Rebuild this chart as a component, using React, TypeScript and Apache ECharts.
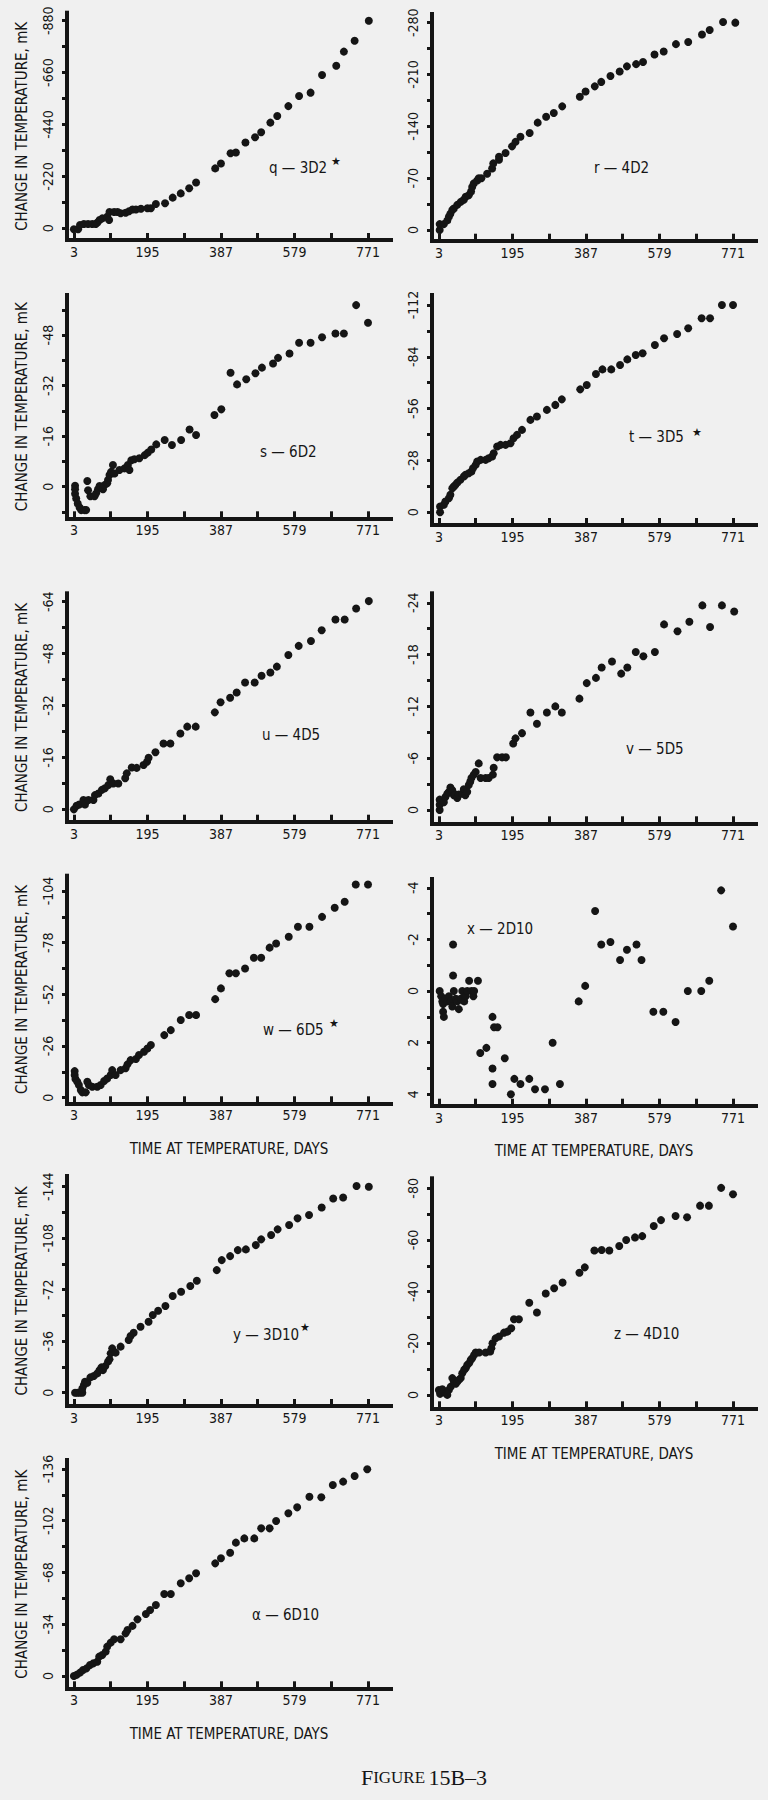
import React, { useEffect, useRef } from "react";
import * as echarts from "echarts";

// ---------- data ----------
const xLabelDays = [3, 195, 387, 579, 771];
const xTickDays = [3, 99, 195, 291, 387, 483, 579, 675, 771];

const qLabels = [0, -220, -440, -660, -880];
const qTicks = [0, -110, -220, -330, -440, -550, -660, -770, -880];
const rLabels = [0, -70, -140, -210, -280];
const rTicks = [0, -35, -70, -105, -140, -175, -210, -245, -280];
const sLabels = [0, -16, -32, -48];
const sTicks = [8, 0, -8, -16, -24, -32, -40, -48, -56];
const tLabels = [0, -28, -56, -84, -112];
const tTicks = [0, -14, -28, -42, -56, -70, -84, -98, -112];
const uLabels = [0, -16, -32, -48, -64];
const uTicks = [0, -8, -16, -24, -32, -40, -48, -56, -64];
const vLabels = [0, -6, -12, -18, -24];
const vTicks = [0, -3, -6, -9, -12, -15, -18, -21, -24];
const wLabels = [0, -26, -52, -78, -104];
const wTicks = [0, -13, -26, -39, -52, -65, -78, -91, -104];
const xLabels = [4, 2, 0, -2, -4];
const xTicks = [4, 3, 2, 1, 0, -1, -2, -3, -4];
const yLabels = [0, -36, -72, -108, -144];
const yTicks = [0, -18, -36, -54, -72, -90, -108, -126, -144];
const zLabels = [0, -20, -40, -60, -80];
const zTicks = [0, -10, -20, -30, -40, -50, -60, -70, -80];
const aLabels = [0, -34, -68, -102, -136];
const aTicks = [0, -17, -34, -51, -68, -85, -102, -119, -136];

const qData = [[3,4],[14,4],[19,-14],[29,-18],[40,-18],[51,-18],[60,-18],[64,-24],[70,-35],[77,-42],[90,-49],[95,-35],[96,-69],[108,-69],[117,-69],[125,-64],[138,-66],[147,-72],[156,-80],[165,-80],[178,-83],[195,-85],[204,-85],[217,-103],[241,-106],[261,-130],[282,-148],[304,-170],[322,-194],[372,-254],[387,-275],[412,-318],[426,-321],[451,-364],[476,-386],[492,-407],[516,-448],[534,-476],[563,-518],[591,-561],[621,-575],[651,-650],[688,-689],[708,-749],[736,-795],[773,-880]];
const rData = [[5,0],[5,-8],[16,-8],[25,-13],[29,-18],[33,-22],[38,-27],[42,-29],[51,-34],[60,-38],[68,-41],[73,-45],[81,-47],[87,-52],[90,-58],[94,-63],[103,-67],[107,-70],[114,-70],[129,-76],[142,-83],[145,-90],[160,-95],[160,-99],[177,-104],[194,-113],[203,-119],[216,-126],[240,-131],[261,-145],[283,-153],[303,-158],[325,-167],[371,-180],[386,-187],[410,-194],[427,-200],[451,-208],[475,-214],[494,-221],[518,-224],[536,-227],[566,-237],[590,-241],[622,-251],[654,-254],[690,-264],[710,-270],[745,-281],[777,-280]];
const sData = [[6,-0.3],[6,0.8],[6,2.2],[9,3.7],[13,5.3],[18,6.6],[22,7.4],[31,7.4],[35,7.4],[38,-1.8],[40,1.1],[46,3],[57,3],[61,2.1],[66,0.8],[70,-0.2],[74,0],[79,0.8],[83,-0.5],[90,-1.1],[92,-2.1],[96,-3.7],[100,-4.7],[105,-6.9],[109,-4.2],[122,-5.3],[135,-5.8],[144,-6.9],[148,-5.3],[153,-8.4],[161,-8.7],[174,-9.0],[188,-10.0],[196,-10.8],[205,-11.8],[218,-13.4],[240,-14.8],[259,-13.2],[283,-14.8],[305,-18.1],[322,-16.4],[370,-22.7],[388,-24.5],[412,-36.1],[429,-32.4],[453,-34.0],[477,-35.9],[494,-37.7],[523,-39.0],[536,-40.8],[566,-42.2],[591,-45.6],[621,-45.6],[651,-47.3],[686,-48.5],[708,-48.5],[740,-57.5],[771,-51.9]];
const tData = [[6,0],[6,-3.1],[16,-4],[20,-5.8],[29,-7.6],[33,-9.4],[38,-13],[42,-13.9],[46,-14.8],[51,-16],[59,-17.5],[68,-19.3],[72,-20.2],[81,-21.1],[88,-22],[92,-23.8],[99,-25.6],[103,-27.4],[112,-28.3],[125,-28.3],[133,-29.2],[142,-30.1],[146,-31.9],[155,-35.5],[164,-36.4],[177,-36.4],[190,-37.3],[198,-40],[207,-41.8],[220,-44.5],[242,-49.9],[259,-51.7],[285,-55.3],[307,-58],[324,-61],[372,-66.4],[389,-68.8],[413,-74.7],[430,-77.2],[453,-77.2],[476,-79.6],[495,-82.6],[517,-85],[535,-85.9],[567,-90.4],[591,-94],[625,-96.3],[654,-99.4],[689,-104.8],[711,-104.8],[742,-112],[771,-112]];
const uData = [[3,0],[10,-1.1],[17,-1.5],[28,-2.9],[32,-1.5],[41,-2.9],[54,-2.9],[58,-4.4],[67,-4.9],[76,-6],[84,-6.5],[93,-7.5],[98,-9.3],[106,-8],[119,-8],[137,-9.6],[141,-11.1],[154,-12.9],[167,-12.8],[185,-13.7],[194,-14.7],[198,-15.9],[216,-17.6],[237,-20.3],[255,-20.3],[281,-23.4],[299,-25.5],[321,-25.5],[371,-29.9],[386,-33],[411,-34.4],[428,-36],[450,-39.1],[475,-39.1],[493,-41.2],[516,-42.2],[533,-44],[563,-47.6],[590,-50.4],[622,-51.9],[650,-55.2],[686,-58.5],[710,-58.5],[740,-61.9],[773,-64.2]];
const vData = [[5,0],[5,-0.6],[5,-1.2],[16,-0.9],[20,-1.5],[25,-1.9],[29,-2.1],[33,-2.6],[38,-2.3],[42,-1.7],[46,-1.8],[51,-1.4],[55,-1.8],[64,-1.9],[68,-2.4],[72,-1.7],[77,-2.1],[81,-2.9],[85,-3.3],[88,-3.7],[94,-4.1],[99,-4.4],[107,-5.4],[112,-3.7],[125,-3.7],[133,-3.7],[144,-4.1],[146,-4.9],[155,-6.1],[168,-6.1],[178,-6.1],[197,-7.7],[203,-8.3],[220,-8.9],[242,-11.3],[259,-10],[285,-11.3],[307,-12],[324,-11.3],[370,-12.9],[389,-14.7],[413,-15.3],[428,-16.5],[455,-17.2],[479,-15.8],[495,-16.5],[517,-18.3],[537,-17.8],[567,-18.3],[591,-21.5],[626,-20.7],[657,-21.8],[691,-23.7],[711,-21.2],[742,-23.7],[774,-23]];
const wData = [[5,-13.4],[5,-11.4],[7,-9.4],[12,-8],[16,-6.4],[21,-3.9],[25,-2.7],[34,-2.7],[38,-8],[42,-6.4],[51,-5.5],[64,-5.5],[73,-6.4],[82,-8.4],[90,-9.7],[99,-11.4],[103,-13.9],[112,-11.4],[125,-13.9],[138,-14.8],[143,-16.8],[151,-18.9],[165,-19.5],[173,-21.5],[186,-23.1],[195,-24.8],[204,-26.5],[239,-31.5],[256,-34],[282,-39.1],[304,-41.6],[322,-41.6],[372,-49.6],[387,-55],[409,-62.6],[426,-62.6],[450,-65],[473,-70.4],[492,-70.4],[514,-75.5],[531,-77.6],[564,-81],[588,-86],[618,-86],[651,-91],[684,-95.6],[710,-98.6],[739,-107.3],[771,-107.3]];
const xData = [[5,0],[9,0.2],[12,0.4],[14,0.5],[14,0.8],[16,1.0],[20,0.3],[25,0.4],[29,0.2],[34,0.4],[38,0.6],[40,-1.8],[40,-0.6],[42,0],[47,0.3],[51,0.4],[55,0.7],[60,0.3],[64,0],[69,0.4],[73,0.2],[77,0],[82,-0.4],[88,0],[93,0.2],[95,0],[105,-0.4],[111,2.4],[127,2.2],[143,1.0],[143,3.0],[143,3.6],[147,1.4],[156,1.4],[175,2.6],[191,4.0],[200,3.4],[216,3.6],[239,3.4],[254,3.8],[280,3.8],[300,2.0],[319,3.6],[368,0.4],[385,-0.2],[411,-3.1],[427,-1.8],[451,-1.9],[476,-1.2],[494,-1.6],[519,-1.8],[532,-1.2],[563,0.8],[589,0.8],[621,1.2],[653,0],[688,0],[709,-0.4],[740,-3.9],[771,-2.5]];
const yData = [[6,0],[12,0],[18,0],[25,0],[25,-3],[29,-5.4],[32,-7.7],[38,-7],[46,-10.7],[55,-11.7],[64,-13.5],[70,-15.8],[75,-17.7],[79,-15.8],[85,-18.6],[92,-21.7],[96,-23.3],[99,-27.5],[103,-31],[112,-28],[125,-32.2],[146,-36.8],[151,-39.6],[159,-41.9],[177,-46.1],[198,-49.6],[209,-54.3],[223,-57.3],[242,-60.6],[261,-67.6],[283,-70.6],[307,-74.6],[324,-78.3],[376,-85.7],[389,-92.7],[411,-95.5],[431,-99.7],[452,-100.2],[478,-103.2],[492,-107.2],[518,-110.2],[535,-114.2],[565,-117.2],[587,-121.9],[617,-124.2],[650,-129.5],[680,-135.8],[706,-136.5],[741,-144.5],[773,-144]];
const zData = [[3,-1.9],[6,-0.4],[12,-2.2],[16,-1.3],[21,-0.6],[25,0],[29,-1.9],[34,-3.2],[38,-6.5],[42,-5.2],[47,-4.3],[51,-5.2],[55,-5.8],[60,-6.5],[64,-8.4],[69,-9.7],[73,-10.3],[77,-11.6],[82,-12.3],[86,-13.5],[90,-14.2],[95,-15.5],[99,-16.4],[108,-16.4],[125,-16.4],[137,-16.8],[140,-18.1],[143,-20],[151,-21.9],[160,-22.6],[173,-24.1],[182,-24.5],[192,-25.8],[199,-29.3],[212,-29.3],[239,-35.7],[259,-31.9],[282,-39.3],[304,-41.3],[326,-43.5],[370,-47.3],[384,-49.4],[409,-55.9],[428,-56.1],[448,-55.9],[474,-57.7],[492,-60],[515,-61],[534,-61.5],[564,-65.4],[583,-67.7],[621,-69.3],[651,-68.8],[685,-73.3],[708,-73.3],[740,-80.2],[771,-77.7]];
const aData = [[3,0],[10,-0.7],[19,-2.2],[27,-3.9],[36,-5],[45,-7.2],[54,-8.3],[64,-9.4],[69,-12.7],[77,-13.8],[86,-16],[90,-19.3],[99,-21.9],[108,-24.1],[125,-24.1],[138,-28],[143,-30.2],[156,-32.9],[169,-37.2],[191,-40.7],[202,-43.4],[217,-46.6],[239,-53.9],[256,-53.9],[282,-60.9],[304,-64.2],[322,-67.5],[372,-74],[387,-77.3],[411,-81],[426,-87.6],[448,-90.4],[474,-90.4],[492,-97],[514,-97],[531,-101.8],[563,-106.9],[586,-110.8],[618,-117.8],[649,-117.4],[679,-125.5],[706,-127.7],[736,-131.4],[769,-135.8]];

const panelTitles = ["q — 3D2", "r — 4D2", "s — 6D2", "t — 3D5", "u — 4D5", "v — 5D5", "w — 6D5", "x — 2D10", "y — 3D10", "z — 4D10", "α — 6D10"];
const starred = [true, false, false, true, false, false, true, false, true, false, false];
const yAxisTitle = "CHANGE IN TEMPERATURE, mK";
const xAxisTitle = "TIME AT TEMPERATURE, DAYS";

const panelData = [qData, rData, sData, tData, uData, vData, wData, xData, yData, zData, aData];
const panelLabels = [qLabels, rLabels, sLabels, tLabels, uLabels, vLabels, wLabels, xLabels, yLabels, zLabels, aLabels];
const panelTicks = [qTicks, rTicks, sTicks, tTicks, uTicks, vTicks, wTicks, xTicks, yTicks, zTicks, aTicks];

// ---------- layout ----------
const layouts = [
  { left: 67, top: 12.7, bottom: 240, min: -914, max: 49.6, yName: true, xName: false, tx: 269, ty: 168, sx: 336, sy: 161 },
  { left: 432, top: 14, bottom: 240.7, min: -291.7, max: 14.4, yName: false, xName: false, tx: 594, ty: 168, sx: 0, sy: 0 },
  { left: 67, top: 295, bottom: 518.3, min: -60.7, max: 10, yName: true, xName: false, tx: 260, ty: 452, sx: 0, sy: 0 },
  { left: 432, top: 295, bottom: 525, min: -117.4, max: 6.9, yName: false, xName: false, tx: 629, ty: 437, sx: 697, sy: 432 },
  { left: 67, top: 593.3, bottom: 821.7, min: -66.6, max: 3.8, yName: true, xName: false, tx: 262, ty: 735, sx: 0, sy: 0 },
  { left: 432, top: 593.3, bottom: 823.3, min: -25.1, max: 1.54, yName: false, xName: false, tx: 626, ty: 749, sx: 0, sy: 0 },
  { left: 67, top: 875.7, bottom: 1103.3, min: -111.7, max: 2.8, yName: true, xName: true, tx: 263, ty: 1030, sx: 334, sy: 1023 },
  { left: 432, top: 879, bottom: 1105.7, min: -4.34, max: 4.44, yName: false, xName: true, tx: 467, ty: 929, sx: 0, sy: 0 },
  { left: 67, top: 1176, bottom: 1406, min: -151.5, max: 9.3, yName: true, xName: false, tx: 233, ty: 1335, sx: 305, sy: 1327 },
  { left: 432, top: 1178.3, bottom: 1408.3, min: -83.9, max: 5.2, yName: false, xName: true, tx: 614, ty: 1334, sx: 0, sy: 0 },
  { left: 67, top: 1460, bottom: 1688.3, min: -141.9, max: 8.1, yName: true, xName: true, tx: 252, ty: 1615, sx: 0, sy: 0 },
];

const FONT = "'Liberation Sans Narrow', 'DejaVu Sans Condensed', 'Roboto Condensed', 'Arial Narrow', Roboto, sans-serif";
const SERIF = "'Liberation Serif', 'DejaVu Serif', serif";
const INK = "#151515";
const BG = "#f0f0f0";

export default function App() {
  const ref = useRef<HTMLDivElement>(null);

  useEffect(() => {
    if (!ref.current) return;
    const chart = echarts.init(ref.current, null, { renderer: "svg" });

    const grid = layouts.map((l) => ({
      left: l.left,
      top: l.top,
      width: 324,
      height: l.bottom - l.top,
      outerBoundsMode: "none",
    }));

    const xAxis = layouts.map((l, i) => ({
      type: "value",
      gridIndex: i,
      min: -15,
      max: 831,
      axisLine: { onZero: false, lineStyle: { color: INK, width: 4, cap: "square" } },
      axisTick: { inside: true, length: 7, customValues: xTickDays, lineStyle: { color: INK, width: 3 } },
      axisLabel: { customValues: xLabelDays, margin: 5, fontSize: 14, color: INK, fontFamily: FONT },
      splitLine: { show: false },
      name: l.xName ? xAxisTitle : "",
      nameLocation: "middle",
      nameGap: 38,
      nameTextStyle: { fontSize: 15, color: INK, fontFamily: FONT },
    }));

    const yAxis = layouts.map((l, i) => ({
      type: "value",
      gridIndex: i,
      inverse: true,
      min: l.min,
      max: l.max,
      axisLine: { onZero: false, lineStyle: { color: INK, width: 4, cap: "square" } },
      axisTick: { inside: false, length: 5, customValues: panelTicks[i], lineStyle: { color: INK, width: 3 } },
      axisLabel: { customValues: panelLabels[i], rotate: 90, margin: 12, fontSize: 14, color: INK, fontFamily: FONT },
      splitLine: { show: false },
      name: l.yName ? yAxisTitle : "",
      nameLocation: "middle",
      nameRotate: 90,
      nameGap: 38,
      nameTextStyle: { fontSize: 15, color: INK, fontFamily: FONT },
    }));

    const series = panelData.map((d, i) => ({
      type: "scatter",
      name: panelTitles[i],
      xAxisIndex: i,
      yAxisIndex: i,
      data: d,
      symbol: "circle",
      symbolSize: 8,
      itemStyle: { color: INK, opacity: 1 },
    }));

    const graphic: any[] = [];
    layouts.forEach((l, i) => {
      graphic.push({
        type: "text",
        x: l.tx,
        y: l.ty,
        style: { text: panelTitles[i], fontSize: 15, fontFamily: FONT, fill: INK, verticalAlign: "middle", align: "left" },
      });
      if (starred[i]) {
        graphic.push({
          type: "text",
          x: l.sx,
          y: l.sy,
          style: { text: "★", fontSize: 11, fontFamily: "DejaVu Sans", fill: INK, verticalAlign: "middle", align: "center" },
        });
      }
    });
    graphic.push({
      type: "text",
      x: 424,
      y: 1777,
      style: {
        text: "{b|F}{s|IGURE} {b|15B–3}",
        align: "center",
        verticalAlign: "middle",
        fill: INK,
        rich: {
          b: { fontSize: 22, fontFamily: SERIF, fill: INK },
          s: { fontSize: 17, fontFamily: SERIF, fill: INK },
        },
      },
    });

    chart.setOption({
      animation: false,
      backgroundColor: BG,
      grid,
      xAxis,
      yAxis,
      series,
      graphic,
    } as any);

    return () => chart.dispose();
  }, []);

  return (
    <div
      ref={ref}
      style={{ position: "absolute", left: 0, top: 0, width: 768, height: 1800, background: BG }}
    />
  );
}
